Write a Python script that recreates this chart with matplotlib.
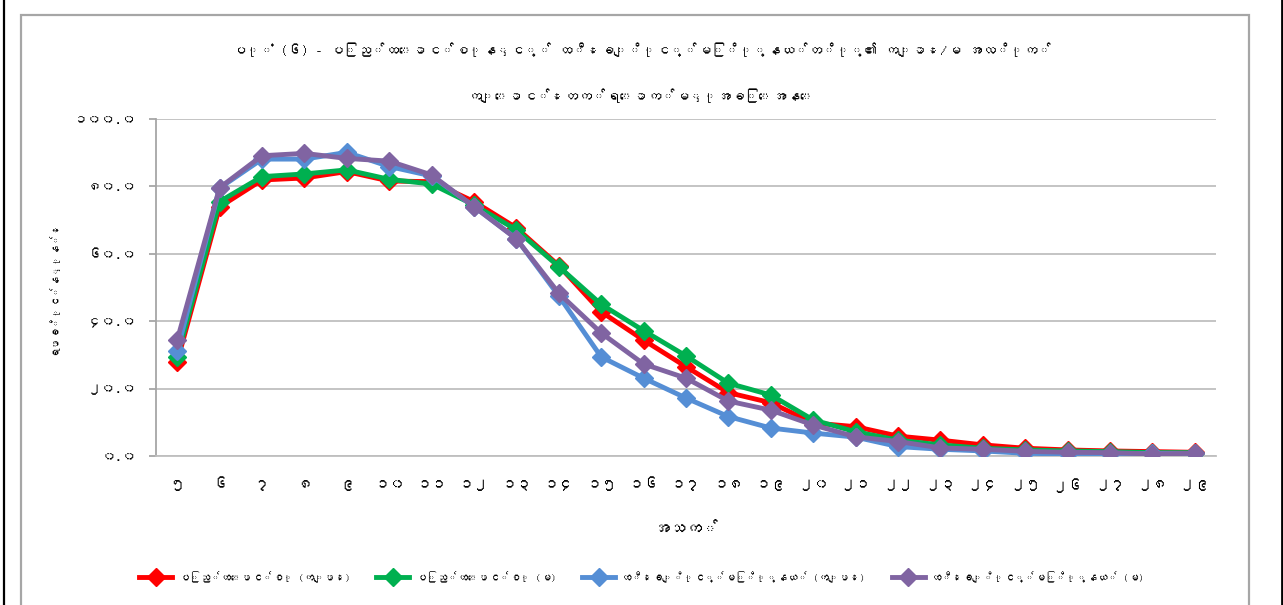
"""School attendance by age and sex, Union vs township line chart.
"""
import numpy as np
import matplotlib
matplotlib.use('Agg')
import matplotlib.pyplot as plt
from matplotlib import font_manager
from matplotlib.ft2font import FT2Font
from matplotlib.lines import Line2D

# ages 5..29, labels in Myanmar digits
age_labels = ['၅', '၆', '၇', '၈', '၉', '၁၀', '၁၁', '၁၂', '၁၃', '၁၄', '၁၅', '၁၆', '၁၇',
              '၁၈', '၁၉', '၂၀', '၂၁', '၂၂', '၂၃', '၂၄', '၂၅', '၂၆', '၂၇', '၂၈', '၂၉']

union_male = [28.0, 73.9, 81.9, 82.5, 84.4, 81.6, 81.4, 75.5, 67.7, 56.5, 42.8, 34.4, 26.5,
              18.8, 15.8, 9.8, 8.7, 5.9, 4.7, 3.3, 2.3, 1.8, 1.5, 1.3, 1.1]
union_female = [29.5, 75.5, 82.9, 83.7, 84.9, 82.1, 80.7, 74.5, 67.1, 56.2, 45.0, 37.2, 29.7,
                21.6, 18.1, 10.7, 7.2, 4.7, 3.3, 2.3, 1.8, 1.5, 1.3, 1.0, 1.0]
town_male = [31.2, 79.5, 88.1, 88.1, 90.1, 85.9, 83.1, 74.0, 64.5, 47.5, 29.4, 23.1, 17.2,
             11.7, 8.3, 6.8, 5.6, 2.8, 2.0, 1.5, 0.8, 0.6, 0.6, 0.8, 0.8]
town_female = [34.4, 79.6, 89.1, 89.8, 88.3, 87.5, 83.4, 74.0, 64.4, 48.3, 36.5, 27.3, 23.1,
               16.3, 13.6, 9.2, 5.7, 4.3, 2.4, 2.0, 1.4, 1.1, 1.0, 0.6, 0.8]

y_ticks = [0, 20, 40, 60, 80, 100]
y_tick_labels = ['၀.၀', '၂၀.၀', '၄၀.၀', '၆၀.၀', '၈၀.၀', '၁၀၀.၀']

series_names = ['ပြည်ထောင်စု (ကျား)', 'ပြည်ထောင်စု (မ)',
                'ထီးချိုင့်မြို့နယ် (ကျား)', 'ထီးချိုင့်မြို့နယ် (မ)']
series_colors = ['#FF0000', '#00B050', '#558ED5', '#8064A2']

title_line1 = 'ပုံ (၆) - ပြည်ထောင်စုနှင့် ထီးချိုင့်မြို့နယ်တို့၏ ကျား/မ အလိုက်'
title_line2 = 'ကျောင်းတက်ရောက်မှုအခြေအနေ'
x_label = 'အသက်'
y_label = 'ရာခိုင်နှုန်း'


# look for any installed font that has Myanmar glyphs
def find_myanmar_font():
    for path in font_manager.findSystemFonts():
        try:
            f = FT2Font(path)
            if 0x1000 in f.get_charmap():
                return font_manager.FontProperties(fname=path).get_name()
        except Exception:
            pass
    return None


mm_font = find_myanmar_font()
if mm_font is not None:
    plt.rcParams['font.family'] = [mm_font, 'DejaVu Sans']
else:
    plt.rcParams['font.family'] = ['DejaVu Sans']

W, H = 1283, 605
fig = plt.figure(figsize=(W / 100, H / 100), dpi=100)
fig.patch.set_facecolor('white')

# chart frame (gray) and the black screenshot edges
fig.add_artist(plt.Rectangle((21 / W, -0.05), (1249 - 21) / W, 1.05 - 15 / H,
                             transform=fig.transFigure, fill=False,
                             edgecolor='#A6A6A6', linewidth=1.6))
fig.add_artist(Line2D([3.5 / W, 3.5 / W], [0, 1], transform=fig.transFigure,
                      color='black', linewidth=1.6))
fig.add_artist(Line2D([1281.5 / W, 1281.5 / W], [0, 1], transform=fig.transFigure,
                      color='black', linewidth=2.0))

ax = fig.add_axes([156 / W, 1 - 456 / H, (1216 - 156) / W, (456 - 119) / H])

x = np.arange(len(age_labels))
all_series = [union_male, union_female, town_male, town_female]
for vals, name, col in zip(all_series, series_names, series_colors):
    ax.plot(x, vals, color=col, linewidth=3.5, marker='D', markersize=9,
            markeredgecolor=col, label=name, zorder=3)

ax.set_xlim(-0.5, len(age_labels) - 0.5)
ax.set_ylim(0, 100)
ax.set_yticks(y_ticks)
ax.set_yticklabels(y_tick_labels, fontsize=10)
ax.set_xticks(x)
ax.set_xticklabels(age_labels, fontsize=11)
ax.tick_params(axis='x', length=0, pad=16)
ax.tick_params(axis='y', length=5, color='#A6A6A6', width=1.3, pad=9)
ax.grid(axis='y', color='#BFBFBF', linewidth=1.3, zorder=0)
for s in ['top', 'right']:
    ax.spines[s].set_visible(False)
ax.spines['left'].set_color('#A6A6A6')
ax.spines['left'].set_linewidth(1.3)
ax.spines['bottom'].set_color('#BFBFBF')
ax.spines['bottom'].set_linewidth(1.3)

ax.set_xlabel(x_label, fontsize=12, labelpad=22)
ax.set_ylabel(y_label, fontsize=7.5, labelpad=12)

# two-line title
fig.text(0.5, 1 - 50 / H, title_line1, ha='center', va='center', fontsize=10,
         fontweight='bold')
fig.text(0.5, 1 - 96 / H, title_line2, ha='center', va='center', fontsize=10,
         fontweight='bold')

fig.legend(loc='center', bbox_to_anchor=(0.5, 1 - 577 / H), ncol=4, frameon=False,
           fontsize=7.5, handlelength=3.2, columnspacing=2.5, handletextpad=0.6)

fig.savefig('out.png', dpi=100)
